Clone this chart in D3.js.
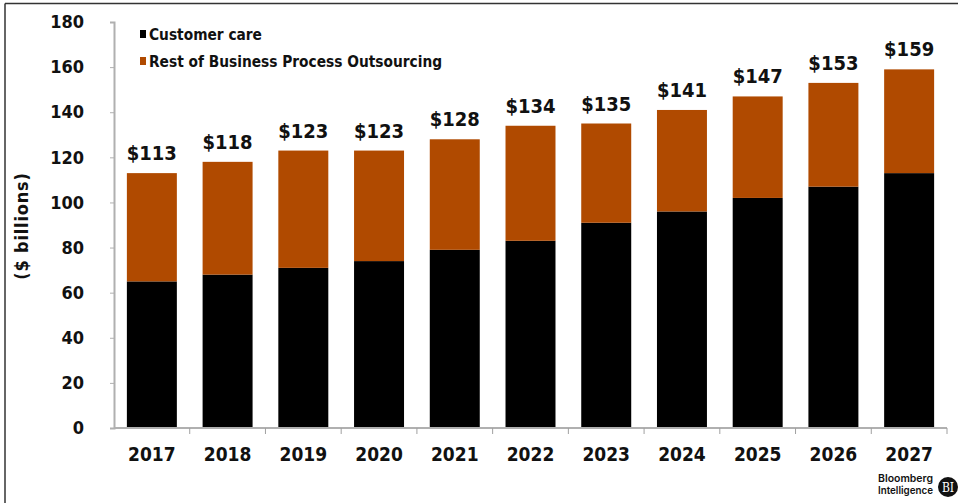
<!DOCTYPE html>
<html>
<head>
<meta charset="utf-8">
<script src="https://cdn.jsdelivr.net/npm/d3@7"></script>
<style>
  html, body { margin: 0; padding: 0; background: #fff; }
  svg { display: block; }
  text { font-family: "DejaVu Sans Condensed", "DejaVu Sans", sans-serif; font-stretch: condensed; font-weight: bold; fill: #111; }
</style>
</head>
<body>
<svg id="chart" width="958" height="503"></svg>
<script>
const years = ["2017","2018","2019","2020","2021","2022","2023","2024","2025","2026","2027"];
const customerCare = [65, 68, 71, 74, 79, 83, 91, 96, 102, 107, 113];
const totals = [113, 118, 123, 123, 128, 134, 135, 141, 147, 153, 159];
const restBPO = totals.map((t, i) => t - customerCare[i]);
const totalLabels = ["$113","$118","$123","$123","$128","$134","$135","$141","$147","$153","$159"];
const yTicks = [0, 20, 40, 60, 80, 100, 120, 140, 160, 180];
const seriesNames = ["Customer care", "Rest of Business Process Outsourcing"];
const colors = ["#000000", "#b04a00"];

const svg = d3.select("#chart");
const W = 958, H = 503;
const m = { left: 114, right: 11, top: 22, bottom: 75 };

// frame
svg.append("line").attr("x1", 5).attr("x2", W).attr("y1", 3.5).attr("y2", 3.5).attr("stroke", "#333").attr("stroke-width", 1.5);
svg.append("line").attr("x1", 5).attr("x2", 5).attr("y1", 3.5).attr("y2", H).attr("stroke", "#333").attr("stroke-width", 1.5);

const x = d3.scaleBand().domain(years).range([m.left, W - m.right]).paddingInner(0.34).paddingOuter(0.17);
const y = d3.scaleLinear().domain([0, 180]).range([H - m.bottom, m.top]);

const data = years.map((yr, i) => ({ year: yr, care: customerCare[i], rest: restBPO[i] }));
const stack = d3.stack().keys(["care", "rest"])(data);

svg.append("g").selectAll("g").data(stack).join("g")
  .attr("fill", (d, i) => colors[i])
  .selectAll("rect").data(d => d).join("rect")
  .attr("x", d => x(d.data.year))
  .attr("width", x.bandwidth())
  .attr("y", d => y(d[1]))
  .attr("height", d => y(d[0]) - y(d[1]));

// y axis
const yAxis = d3.axisLeft(y).tickValues(yTicks).tickSize(4).tickPadding(26);
const gy = svg.append("g").attr("transform", `translate(${m.left},0)`).call(yAxis);
gy.select(".domain").attr("stroke", "#b0b0b0").attr("stroke-width", 2);
gy.selectAll(".tick line").attr("stroke", "#b0b0b0");
gy.selectAll(".tick text").style("font-size", "18px").attr("fill", "#111");

// x axis
const gx = svg.append("g").attr("transform", `translate(0,${y(0)})`);
gx.append("line").attr("x1", m.left).attr("x2", W - m.right).attr("y1", 0).attr("y2", 0).attr("stroke", "#b0b0b0").attr("stroke-width", 2);
const step = x.step();
const boundaries = d3.range(years.length + 1).map(i => x(years[0]) - x.paddingOuter() * step + i * step);
gx.selectAll("line.tk").data(boundaries.slice(1)).join("line").attr("class", "tk")
  .attr("x1", d => d).attr("x2", d => d).attr("y1", 0).attr("y2", 6).attr("stroke", "#a0a0a0");
gx.selectAll("text").data(years).join("text")
  .attr("x", d => x(d) + x.bandwidth() / 2).attr("y", 33)
  .attr("text-anchor", "middle").style("font-size", "19px").text(d => d);

// total labels
svg.append("g").selectAll("text").data(data).join("text")
  .attr("x", d => x(d.year) + x.bandwidth() / 2)
  .attr("y", (d, i) => y(totals[i]) - 13)
  .attr("text-anchor", "middle").style("font-size", "20px")
  .text((d, i) => totalLabels[i]);

// y axis title
svg.append("text").attr("transform", "translate(28,226) rotate(-90)")
  .attr("text-anchor", "middle").style("font-size", "18px").style("letter-spacing", "0.8px").text("($ billions)");

// legend
const lg = svg.append("g").attr("transform", "translate(140,34)");
seriesNames.forEach((n, i) => {
  lg.append("rect").attr("x", 0).attr("y", i * 27 - 4).attr("width", 6).attr("height", 8).attr("fill", colors[i]);
  lg.append("text").attr("x", 9).attr("y", i * 27 + 5.5).style("font-size", "15.3px").text(n);
});

// Bloomberg Intelligence logo
const logoFont = "Inter, 'DejaVu Sans', sans-serif";
svg.append("text").attr("x", 878).attr("y", 482).attr("textLength", 55).attr("lengthAdjust", "spacingAndGlyphs")
  .style("font-size", "10.5px").style("font-family", logoFont).style("font-weight", "600").text("Bloomberg");
svg.append("text").attr("x", 878).attr("y", 494).attr("textLength", 55).attr("lengthAdjust", "spacingAndGlyphs")
  .style("font-size", "10.5px").style("font-family", logoFont).style("font-weight", "600").text("Intelligence");
svg.append("circle").attr("cx", 948).attr("cy", 487).attr("r", 10).attr("fill", "#111");
svg.append("text").attr("x", 948).attr("y", 491.5).attr("text-anchor", "middle")
  .style("font-size", "12px").style("font-family", "'DejaVu Serif', serif").style("font-weight", "normal").style("fill", "#fff").text("BI");
</script>
</body>
</html>
